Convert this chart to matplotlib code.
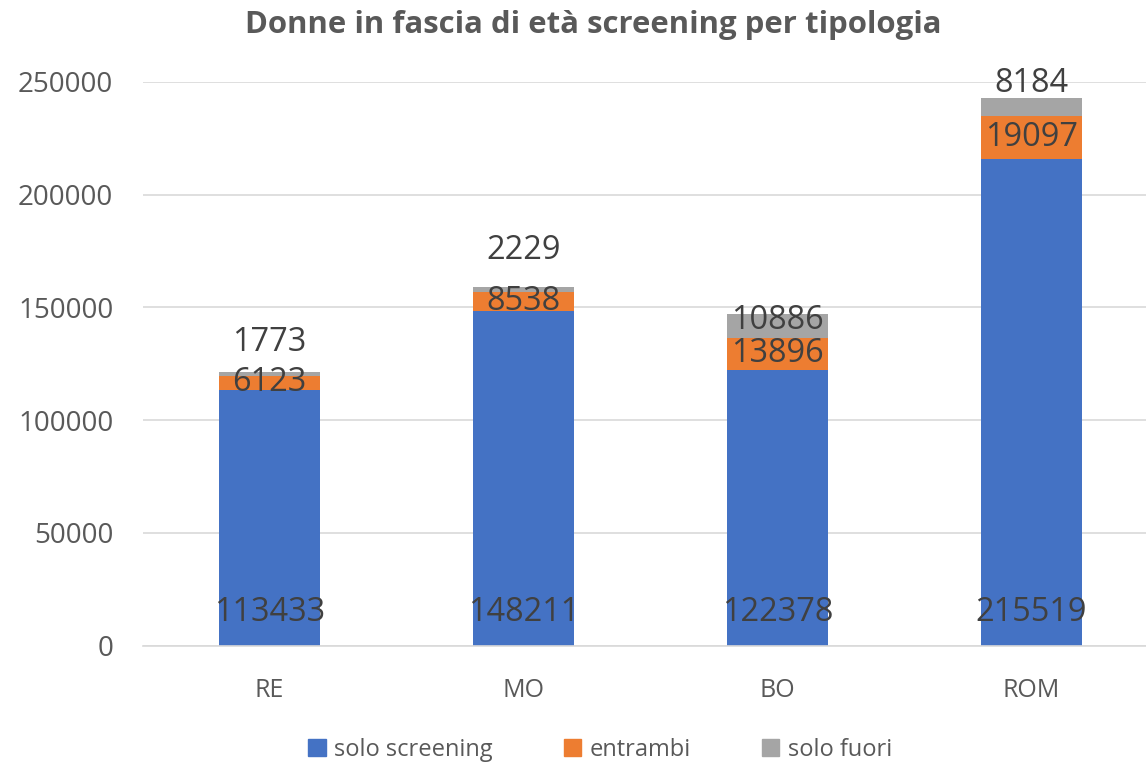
import numpy as np
import matplotlib
matplotlib.use("Agg")
from matplotlib import pyplot as plt
from matplotlib.patches import Patch

# data
categories = ["RE", "MO", "BO", "ROM"]
solo_screening = [113433, 148211, 122378, 215519]
entrambi = [6123, 8538, 13896, 19097]
solo_fuori = [1773, 2229, 10886, 8184]

# label nudges (pixels up) for the top labels, excel moved them to avoid overlap
fuori_nudge = [31, 39, 5, 24]

blue = "#4472C4"
orange = "#ED7D31"
gray = "#A5A5A5"
txt = "#404040"

plt.rcParams["font.family"] = ["Open Sans", "DejaVu Sans"]

fig = plt.figure(figsize=(11.46, 7.65), dpi=100)
ax = fig.add_axes([142.5 / 1146, 119.3 / 765, 1016 / 1146, 564 / 765])

x = np.arange(len(categories))
w = 0.4
s = np.array(solo_screening)
e = np.array(entrambi)
f = np.array(solo_fuori)

ax.bar(x, s, w, color=blue, zorder=2)
ax.bar(x, e, w, bottom=s, color=orange, zorder=2)
ax.bar(x, f, w, bottom=s + e, color=gray, zorder=2)

ax.set_xlim(-0.5, 3.5)
ax.set_ylim(0, 250000)
ax.set_yticks(np.arange(0, 250001, 50000))
ax.set_xticks(x)
ax.set_xticklabels(categories)
ax.yaxis.grid(True, color="#D9D9D9", lw=1.2, zorder=0)
ax.set_axisbelow(True)
for sp in ["top", "right", "left"]:
    ax.spines[sp].set_visible(False)
ax.spines["bottom"].set_color("#D9D9D9")
ax.spines["bottom"].set_linewidth(1.2)
ax.tick_params(axis="both", length=0, labelcolor="#595959")
ax.tick_params(axis="y", pad=21, labelsize=20)
ax.tick_params(axis="x", pad=23, labelsize=18)

lblsize = 23.4
for i in range(len(categories)):
    # inside base label for the bottom segment
    ax.annotate(str(s[i]), (x[i], 0), xytext=(0, 33 * 0.72), textcoords="offset points",
                ha="center", va="center", fontsize=lblsize, color=txt, zorder=3)
    ax.text(x[i], s[i] + e[i] / 2, str(e[i]), ha="center", va="center", fontsize=lblsize, color=txt, zorder=3)
    ax.annotate(str(f[i]), (x[i], s[i] + e[i] + f[i] / 2), xytext=(0, fuori_nudge[i] * 0.72),
                textcoords="offset points", ha="center", va="center", fontsize=lblsize,
                color=txt, zorder=3, annotation_clip=False)

fig.text(593 / 1146, 1 - 25 / 765, "Donne in fascia di età screening per tipologia",
         ha="center", va="center", fontsize=22.4, fontweight="bold", color="#595959")

handles = [Patch(color=blue), Patch(color=orange), Patch(color=gray)]
fig.legend(handles, ["solo screening", "entrambi", "solo fuori"], loc="center",
           bbox_to_anchor=(600 / 1146, 1 - 750 / 765), ncol=3, frameon=False,
           fontsize=17, labelcolor="#595959", handlelength=0.75, handleheight=0.75,
           handletextpad=0.35, columnspacing=3.0)

plt.savefig("out.png", dpi=100)
